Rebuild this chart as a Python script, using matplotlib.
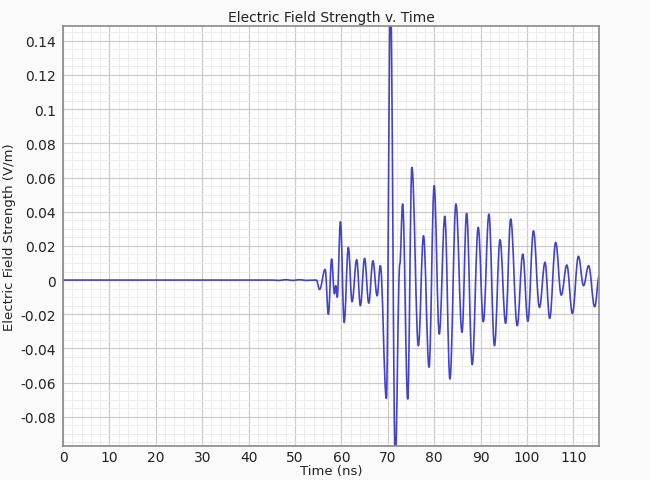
import matplotlib
matplotlib.use("Agg")
import matplotlib.pyplot as plt
from matplotlib.path import Path
from matplotlib.patches import PathPatch
from matplotlib.ticker import MultipleLocator, FixedLocator, FixedFormatter

# turning points of the received field trace (ns, V/m)
time_ns = [
    0.0, 45.0, 46.5, 48.0, 49.5, 51.0, 52.5, 54.6,
    55.3, 56.5, 57.2, 57.9, 58.5, 58.8, 59.1, 59.8,
    60.6, 61.5, 62.3, 63.3, 64.1, 65.0, 65.9, 66.8, 67.7, 68.4,
    69.7, 70.6, 71.6, 72.6, 73.2, 74.3, 75.2, 76.6, 77.7, 78.9,
    80.0, 81.1, 82.3, 83.4, 84.7, 86.0, 87.0, 88.2, 89.5, 90.6,
    91.8, 93.0, 94.2, 95.4, 96.5, 97.9, 99.1, 100.2, 101.4, 102.7,
    103.9, 104.9, 106.2, 107.4, 108.6, 109.8, 111.1, 112.2, 113.3, 114.6,
    115.6,
]
field_vm = [
    0.0, 0.0, -0.0002, 0.0002, -0.0002, 0.0002, -0.0002, 0.0,
    -0.0055, 0.0062, -0.0200, 0.0123, -0.0080, -0.0033, -0.0100, 0.0341,
    -0.0248, 0.0191, -0.0127, 0.0119, -0.0150, 0.0127, -0.0135, 0.0113, -0.0092, 0.0084,
    -0.0692, 0.1650, -0.1050, 0.0094, 0.0445, -0.0696, 0.0659, -0.0384, 0.0259, -0.0510,
    0.0552, -0.0316, 0.0373, -0.0579, 0.0445, -0.0306, 0.0390, -0.0495, 0.0308, -0.0244,
    0.0386, -0.0384, 0.0236, -0.0253, 0.0357, -0.0267, 0.0152, -0.0242, 0.0288, -0.0160,
    0.0104, -0.0224, 0.0220, -0.0088, 0.0088, -0.0195, 0.0139, -0.0033, 0.0084, -0.0156,
    0.0025,
]

x_ticks = [0, 10, 20, 30, 40, 50, 60, 70, 80, 90, 100, 110]
y_ticks = [-0.08, -0.06, -0.04, -0.02, 0.0, 0.02, 0.04, 0.06, 0.08, 0.10, 0.12, 0.14]
y_tick_labels = ["-0.08", "-0.06", "-0.04", "-0.02", "0", "0.02", "0.04",
                 "0.06", "0.08", "0.1", "0.12", "0.14"]


def wave_path(ts, vs, handle=0.38):
    # join the turning points with cubic segments that leave and arrive flat
    verts = [(ts[0], vs[0])]
    codes = [Path.MOVETO]
    for (t0, v0), (t1, v1) in zip(zip(ts[:-1], vs[:-1]), zip(ts[1:], vs[1:])):
        dt = t1 - t0
        verts += [(t0 + handle * dt, v0), (t1 - handle * dt, v1), (t1, v1)]
        codes += [Path.CURVE4] * 3
    return Path(verts, codes)


fig = plt.figure(figsize=(6.5, 4.81), dpi=100, facecolor="#fafafa")
ax = fig.add_axes([0.097, 0.071, 0.825, 0.872])
ax.set_facecolor("white")

trace = PathPatch(wave_path(time_ns, field_vm), facecolor="none",
                  edgecolor="#4343c9", linewidth=1.2, joinstyle="round")
ax.add_patch(trace)

ax.set_xlim(0, 115.6)
ax.set_ylim(-0.097, 0.1484)

ax.xaxis.set_major_locator(FixedLocator(x_ticks))
ax.xaxis.set_minor_locator(MultipleLocator(2))
ax.yaxis.set_major_locator(FixedLocator(y_ticks))
ax.yaxis.set_major_formatter(FixedFormatter(y_tick_labels))
ax.yaxis.set_minor_locator(MultipleLocator(0.005))

ax.grid(which="major", color="#cbcbcb", linewidth=0.9)
ax.grid(which="minor", color="#ececec", linewidth=0.7)
ax.set_axisbelow(True)
ax.tick_params(which="both", length=0, labelsize=10, labelcolor="#222222")
ax.tick_params(axis="x", pad=3)
ax.tick_params(axis="y", pad=5)

for spine in ax.spines.values():
    spine.set_color("#8a8a8a")
    spine.set_linewidth(1.2)

ax.set_title("Electric Field Strength v. Time", fontsize=10, color="#222222", pad=4)
ax.set_xlabel("Time (ns)", fontsize=9.5, color="#222222", labelpad=0)
ax.set_ylabel("Electric Field Strength (V/m)", fontsize=9.5, color="#222222", labelpad=3)

fig.savefig("out.png", dpi=100, facecolor=fig.get_facecolor())
